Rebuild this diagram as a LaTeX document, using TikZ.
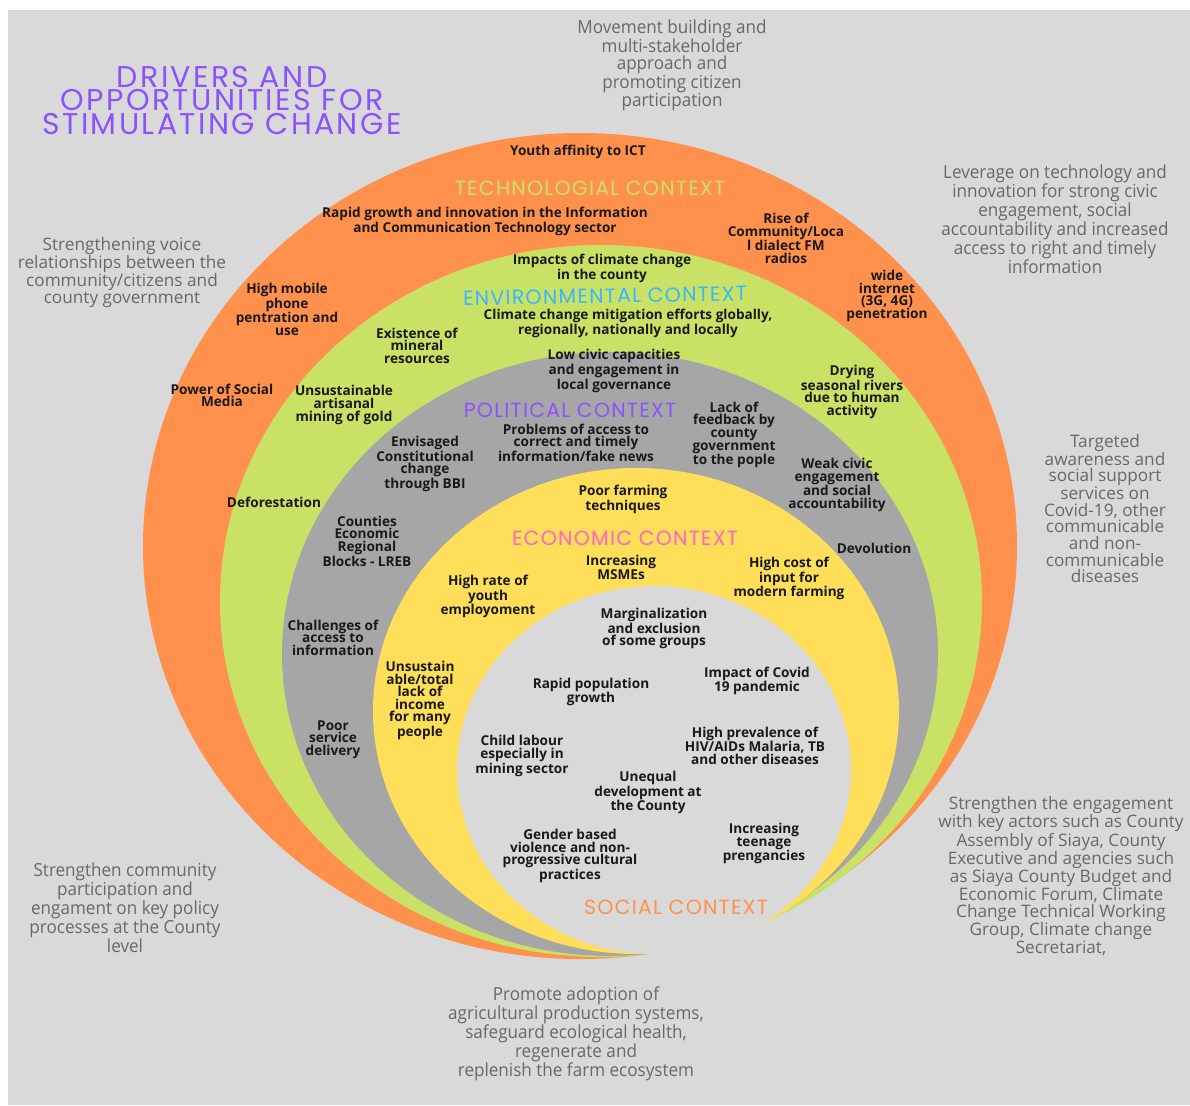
\documentclass[tikz,border=0pt]{standalone}
\usepackage{fontspec}
\setmainfont{Open Sans}
\newfontfamily\headfont{Poppins}[LetterSpace=6]
\newfontfamily\titlefont{Poppins}[LetterSpace=8]
\newfontfamily\condfont{Open Sans}[FakeStretch=0.95]

\definecolor{techorange}{HTML}{FF914D}
\definecolor{envgreen}{HTML}{C9E265}
\definecolor{polgray}{HTML}{A6A6A6}
\definecolor{ecoyellow}{HTML}{FFDE59}
\definecolor{socgray}{HTML}{D9D9D9}
\definecolor{titlepurple}{HTML}{8C52FF}
\definecolor{envblue}{HTML}{38B6FF}
\definecolor{ecopink}{HTML}{FF66C4}
\definecolor{sidetext}{HTML}{686868}

\tikzset{
  lbl/.style={align=center,inner sep=0pt,font=\bfseries\fontsize{13.6}{12.6}\selectfont,text=black!90},
  ctx/.style={inner sep=0pt,font=\headfont\fontsize{20.5}{20.5}\selectfont},
  ttl/.style={inner sep=0pt,text=titlepurple,font=\titlefont\fontsize{30}{30}\selectfont},
  side/.style={align=center,inner sep=0pt,text=sidetext,font=\fontsize{17.2}{16.6}\selectfont},
  sidecond/.style={align=center,inner sep=0pt,text=sidetext,font=\condfont\fontsize{18}{16.9}\selectfont}
}

\begin{document}
\begin{tikzpicture}[x=1pt,y=-1pt]
        \useasboundingbox (0,0) rectangle (1190,1105);
        % Fondo
        \fill[white] (0,0) rectangle (1190,1105);
        \fill[socgray] (8,10) rectangle (1190,1105);

        % Anillos
        \fill[techorange] (580,546) ellipse [x radius=437,y radius=413];
        \fill[envgreen] (601,601) ellipse [x radius=381,y radius=356];
        \fill[polgray] (610,654) ellipse [x radius=328,y radius=302];
        \fill[ecoyellow] (636,711) ellipse [x radius=263,y radius=243];
        \fill[socgray] (654,770) ellipse [x radius=197,y radius=184];

        % Titulo
        \node[ttl] (title1) at (222,77) {DRIVERS AND};
        \node[ttl] (title2) at (222,100.5) {OPPORTUNITIES FOR};
        \node[ttl] (title3) at (222,124) {STIMULATING CHANGE};

        % Contextos
        \node[ctx,text=envgreen] (techctx) at (590,188) {TECHNOLOGIAL CONTEXT};
        \node[ctx,text=envblue,rotate=1] (envctx) at (605,296) {ENVIRONMENTAL CONTEXT};
        \node[ctx,text=titlepurple] (polctx) at (570,410) {POLITICAL CONTEXT};
        \node[ctx,text=ecopink] (ecoctx) at (625,538) {ECONOMIC CONTEXT};
        \node[ctx,text=techorange] (socctx) at (676,907) {SOCIAL CONTEXT};

        % Tecnologico
        \node[lbl] (youth) at (578,152) {Youth affinity to ICT};
        \node[lbl] (ictgrowth) at (485,221.5) {Rapid growth and innovation in the Information\\and Communication Technology sector};
        \node[lbl] (radios) at (786,238.5) {Rise of\\Community/Loca\\l dialect FM\\radios};
        \node[lbl] (mobile) at (287,309.5) {High mobile\\phone\\pentration and\\use};
        \node[lbl] (internet) at (887,296) {wide\\internet\\(3G, 4G)\\penetration};
        \node[lbl] (socmedia) at (222,395.5) {Power of Social\\Media};

        % Ambiental
        \node[lbl] (climimpact) at (602,268.5) {Impacts of climate change\\in the county};
        \node[lbl] (mitigation) at (628,323.5) {Climate change mitigation efforts globally,\\regionally, nationally and locally};
        \node[lbl] (minerals) at (417,345.5) {Existence of\\mineral\\resources};
        \node[lbl] (goldmining) at (344,405) {Unsustainable\\artisanal\\mining of gold};
        \node[lbl] (rivers) at (852,392) {Drying\\seasonal rivers\\due to human\\activity};
        \node[lbl] (deforest) at (274,502) {Deforestation};

        % Politico
        \node[lbl] (lowcivic) at (614,371) {Low civic capacities\\and engagement in\\local governance};
        \node[lbl] (fakenews) at (576,442.5) {Problems of access to\\correct and timely\\information/fake news};
        \node[lbl] (feedback) at (734,435) {Lack of\\feedback by\\county\\government\\to the pople};
        \node[lbl] (bbi) at (425,464) {Envisaged\\Constitutional\\change\\through BBI};
        \node[lbl] (weakcivic) at (837,485) {Weak civic\\engagement\\and social\\accountability};
        \node[lbl] (lreb) at (367,541) {Counties\\Economic\\Regional\\Blocks - LREB};
        \node[lbl] (devolution) at (874,548) {Devolution};
        \node[lbl] (infoaccess) at (333,637.5) {Challenges of\\access to\\information};
        \node[lbl] (service) at (333,739.5) {Poor\\service\\delivery};

        % Economico
        \node[lbl] (farming) at (623,499.5) {Poor farming\\techniques};
        \node[lbl] (msmes) at (621,567) {Increasing\\MSMEs};
        \node[lbl] (inputcost) at (789,578.5) {High cost of\\input for\\modern farming};
        \node[lbl] (youthemp) at (488,596.5) {High rate of\\youth\\employoment};
        \node[lbl] (income) at (420,700.5) {Unsustain\\able/total\\lack of\\income\\for many\\people};

        % Social
        \node[lbl] (margin) at (654,628.5) {Marginalization\\and exclusion\\of some groups};
        \node[lbl] (population) at (591,692) {Rapid population\\growth};
        \node[lbl] (covid) at (757,681) {Impact of Covid\\19 pandemic};
        \node[lbl] (hiv) at (755,745.5) {High prevalence of\\HIV/AIDs Malaria, TB\\and other diseases};
        \node[lbl] (childlabour) at (522,756) {Child labour\\especially in\\mining sector};
        \node[lbl] (unequal) at (648,792.5) {Unequal\\development at\\the County};
        \node[lbl] (gbv) at (570,856) {Gender based\\violence and non-\\progressive cultural\\practices};
        \node[lbl] (teenage) at (764,843.5) {Increasing\\teenage\\prengancies};

        % Oportunidades
        \node[sidecond] (movement) at (672,65.5) {Movement building and\\multi-stakeholder\\approach and\\promoting citizen\\participation};
        \node[sidecond] (leverage) at (1055,219) {Leverage on technology and\\innovation for strong civic\\engagement, social\\accountability and increased\\access to right and timely\\information};
        \node[side] (voice) at (122,272.5) {Strengthening voice\\relationships between the\\community/citizens and\\county government};
        \node[side] (awareness) at (1105,508.5) {Targeted\\awareness and\\social support\\services on\\Covid-19, other\\communicable\\and non-\\communicable\\diseases};
        \node[side] (actors) at (1061,876) {Strengthen the engagement\\with key actors such as County\\Assembly of Siaya, County\\Executive and agencies such\\as Siaya County Budget and\\Economic Forum, Climate\\Change Technical Working\\Group, Climate change\\Secretariat,};
        \node[sidecond] (community) at (125,907.5) {Strengthen community\\participation and\\engament on key policy\\processes at the County\\level};
        \node[sidecond] (agri) at (576,1034) {Promote adoption of\\agricultural production systems,\\safeguard ecological health,\\regenerate and\\replenish the farm ecosystem};
    \end{tikzpicture}
\end{document}
